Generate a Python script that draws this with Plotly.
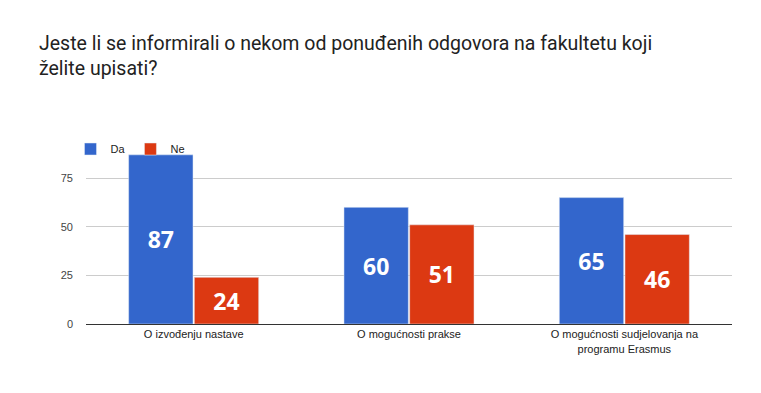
import plotly.graph_objects as go

categories = ["O izvođenju nastave", "O mogućnosti prakse", "O mogućnosti sudjelovanja na<br>programu Erasmus"]
da_values = [87, 60, 65]
ne_values = [24, 51, 46]
y_ticks = [0, 25, 50, 75]

fig = go.Figure()
fig.add_trace(go.Bar(name="Da", x=categories, y=da_values, marker_color="#3366cc",
                     text=da_values, textposition="inside", insidetextanchor="middle",
                     textfont=dict(color="white", size=23, family="Open Sans", weight="bold")))
fig.add_trace(go.Bar(name="Ne", x=categories, y=ne_values, marker_color="#dc3912",
                     text=ne_values, textposition="inside", insidetextanchor="middle",
                     textfont=dict(color="white", size=23, family="Open Sans", weight="bold")))

fig.update_layout(
    width=745, height=385,
    margin=dict(l=78, r=21, t=141, b=69, autoexpand=False),
    paper_bgcolor="white", plot_bgcolor="white",
    barmode="group", bargap=0.39, bargroupgap=0.02,
    font=dict(family="Arial, Liberation Sans", size=11, color="#222"),
    showlegend=True,
    legend=dict(orientation="h", x=-0.024, xanchor="left", y=1.0, yanchor="middle",
                font=dict(size=11, color="#222"), bgcolor="rgba(0,0,0,0)",
                traceorder="normal"),
    uniformtext=dict(minsize=23, mode="show"),
    annotations=[dict(text="Jeste li se informirali o nekom od ponuđenih odgovora na fakultetu koji<br>želite upisati?",
                      xref="paper", yref="paper", x=-49/646, y=1 + (141-22)/175, xanchor="left", yanchor="top",
                      align="left", showarrow=False,
                      font=dict(family="Roboto", size=19.5, color="#222"))],
)
fig.update_yaxes(range=[0, 90], tickvals=y_ticks, showgrid=True, gridcolor="#cccccc",
                 zeroline=False, showline=False, ticks="", tickfont=dict(color="#444", size=11),
                 ticklabelstandoff=12, automargin=False)
fig.update_xaxes(showline=True, linecolor="#333", linewidth=1, ticks="",
                 tickfont=dict(color="#222", size=11), automargin=False)

fig.write_html("out.html")
